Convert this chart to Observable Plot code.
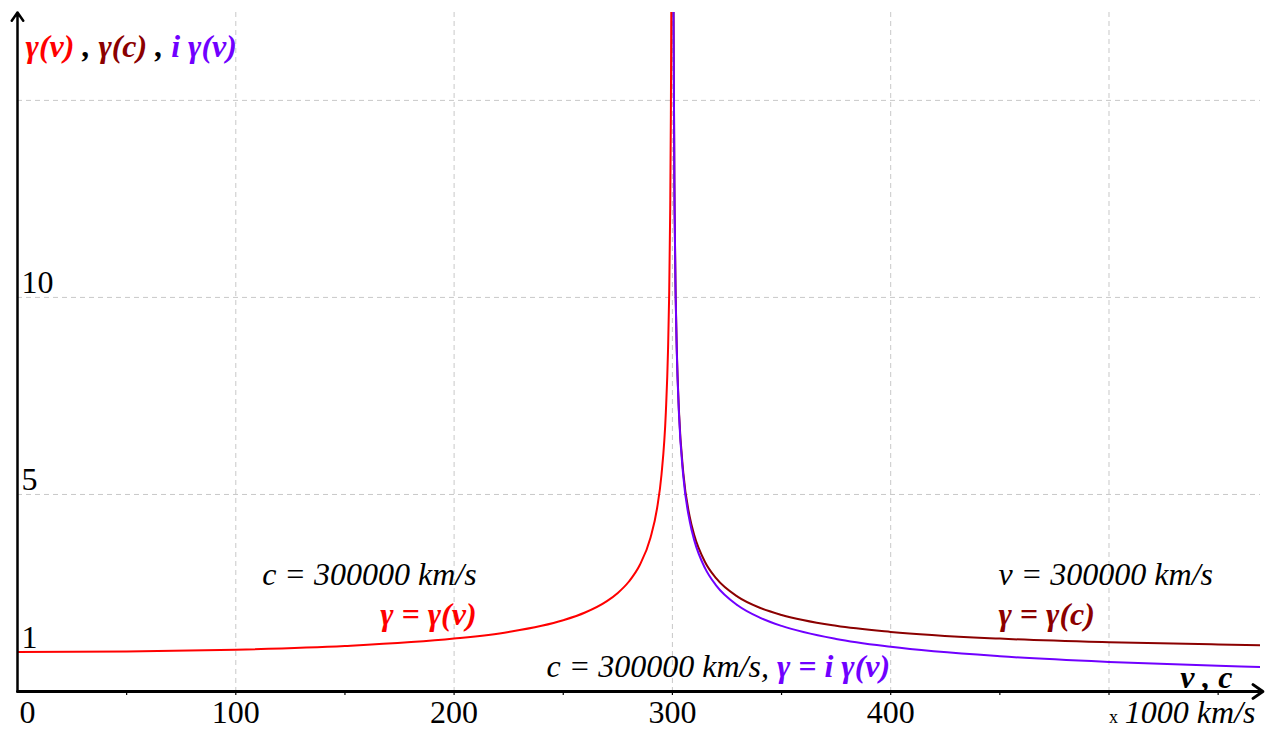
<!DOCTYPE html>
<html>
<head>
<meta charset="utf-8">
<script src="https://cdn.jsdelivr.net/npm/d3@7"></script>
<script src="https://cdn.jsdelivr.net/npm/@observablehq/plot@0.6"></script>
<style>
  body { margin: 0; background: #fff; }
  svg { display: block; }
  svg text { font-family: "Liberation Serif", "Times New Roman", serif; }
</style>
</head>
<body>
<div id="chart"></div>
<script>
// ---- data (×1000 km/s, Lorentz factor) ----
const redV = [0, 50, 100, 150, 200, 225, 250, 260, 270, 275, 280, 285, 290, 293, 295, 297, 298, 298.5, 299, 299.3, 299.5, 299.6];
const redG = [1.000, 1.014, 1.061, 1.155, 1.342, 1.512, 1.809, 2.005, 2.294, 2.502, 2.785, 3.203, 3.906, 4.657, 5.500, 7.089, 8.674, 10.01, 12.26, 14.65, 17.33, 19.37];

const darkC = [300.4, 300.5, 301, 301.5, 302, 303, 305, 308, 310, 315, 320, 330, 340, 350, 375, 400, 450, 500, 550, 570];
const darkG = [19.38, 17.34, 12.28, 10.04, 8.703, 7.124, 5.545, 4.416, 3.969, 3.280, 2.874, 2.400, 2.125, 1.941, 1.667, 1.512, 1.342, 1.250, 1.193, 1.176];

const purpleV = [300.4, 300.5, 301, 301.5, 302, 303, 305, 308, 310, 315, 320, 330, 340, 350, 375, 400, 450, 500, 550, 570];
const purpleG = [19.36, 17.31, 12.24, 9.988, 8.646, 7.053, 5.455, 4.302, 3.841, 3.123, 2.694, 2.182, 1.875, 1.664, 1.333, 1.134, 0.894, 0.750, 0.651, 0.619];

const xTicks = [0, 100, 200, 300, 400];
const xTickLabels = ["0", "100", "200", "300", "400"];
const xMinorTicks = [50, 100, 150, 200, 250, 300, 350, 400, 450, 500, 550];
const xGrid = [100, 200, 300, 400, 500];
const yTicks = [1, 5, 10];
const yTickLabels = ["1", "5", "10"];
const yGrid = [5, 10, 15];

const titleParts = ["γ(v)", " , ", "γ(c)", " , ", "i γ(v)"];
const xAxisName = "v , c";
const unitPrefix = "x";
const unitLabel = "1000 km/s";
const noteLeft = ["c = 300000 km/s", "γ = γ(v)"];
const noteRight = ["v = 300000 km/s", "γ = γ(c)"];
const noteBottomParts = ["c = 300000 km/s, ", "γ = i γ(v)"];

// ---- styles ----
const RED = "#ff0000", DARK = "#8b0000", PURPLE = "#7000ff";
const SERIF = "Liberation Serif";
const FS = 32;
const T = {fontFamily: SERIF, fontSize: FS, lineAnchor: "bottom"};

const red = redV.map((v, i) => ({x: v, y: redG[i]}));
const dark = darkC.map((v, i) => ({x: v, y: darkG[i]}));
const purple = purpleV.map((v, i) => ({x: v, y: purpleG[i]}));

const plot = Plot.plot({
  width: 1265,
  height: 729,
  marginLeft: 17,
  marginRight: 5,
  marginTop: 12,
  marginBottom: 38,
  x: {domain: [0, 569.4], axis: null},
  y: {domain: [0, 17.23], axis: null},
  style: {fontFamily: SERIF, background: "#fff", color: "#000"},
  marks: [
    Plot.gridX(xGrid, {stroke: "#c8c8c8", strokeOpacity: 1, strokeDasharray: "5,4"}),
    Plot.gridY(yGrid, {stroke: "#c8c8c8", strokeOpacity: 1, strokeDasharray: "5,4"}),
    Plot.axisX(xMinorTicks, {tickSize: 4, tickFormat: () => "", stroke: "#000", strokeWidth: 1.2, label: null}),
    Plot.line(red, {x: "x", y: "y", stroke: RED, strokeWidth: 2, curve: "monotone-x", clip: true}),
    Plot.line(dark, {x: "x", y: "y", stroke: DARK, strokeWidth: 2, curve: "monotone-x", clip: true}),
    Plot.line(purple, {x: "x", y: "y", stroke: PURPLE, strokeWidth: 2, curve: "monotone-x", clip: true}),
    // axes with arrowheads
    Plot.arrow([0], {x1: 0, y1: 0, x2: 570.5, y2: 0, stroke: "#000", strokeWidth: 3, headLength: 6, headAngle: 70}),
    Plot.arrow([0], {x1: 0, y1: 0, x2: 0, y2: 17.23, stroke: "#000", strokeWidth: 2.5, headLength: 6, headAngle: 70}),
    // x tick labels
    Plot.text(xTicks.slice(0, 1), {...T, x: d => d, y: 0, text: (d, i) => xTickLabels[i], dy: 31, dx: 10, fill: "#000"}),
    Plot.text(xTicks.slice(1), {...T, x: d => d, y: 0, text: (d, i) => xTickLabels[i + 1], dy: 31, fill: "#000"}),
    // y tick labels
    Plot.text(yTicks, {...T, x: 0, y: d => d, text: (d, i) => yTickLabels[i], textAnchor: "start", dx: 4, dy: -4, fill: "#000"}),
    // axis names
    Plot.text([xAxisName], {...T, x: 556.6, y: 0, text: d => d, textAnchor: "end", dy: -4, fontStyle: "italic", fontWeight: "bold", fill: "#000"}),
    Plot.text([unitPrefix], {...T, x: 500, y: 0, text: d => d, textAnchor: "start", dy: 31, fontSize: 18, fontFamily: "Liberation Sans", fill: "#000"}),
    Plot.text([unitLabel], {...T, x: 567.1, y: 0, text: d => d, textAnchor: "end", dy: 31, fontStyle: "italic", fill: "#000"}),
    // title
    Plot.text([titleParts.join("")], {...T, x: 3.7, y: 16.1, text: d => d, textAnchor: "start", fontStyle: "italic", fontWeight: "bold", fill: "#000"}),
    // annotations
    Plot.text([noteLeft[0]], {...T, x: 210.3, y: 2.69, text: d => d, textAnchor: "end", fontStyle: "italic", fill: "#000"}),
    Plot.text([noteLeft[1]], {...T, x: 210.3, y: 1.675, text: d => d, textAnchor: "end", fontStyle: "italic", fontWeight: "bold", fill: RED}),
    Plot.text([noteRight[0]], {...T, x: 449.4, y: 2.69, text: d => d, textAnchor: "start", fontStyle: "italic", fill: "#000"}),
    Plot.text([noteRight[1]], {...T, x: 449.4, y: 1.675, text: d => d, textAnchor: "start", fontStyle: "italic", fontWeight: "bold", fill: DARK}),
    Plot.text([noteBottomParts.join("")], {...T, x: 242.3, y: 0.38, text: d => d, textAnchor: "start", fontStyle: "italic", fill: "#000"})
  ]
});

// colour the parts of the mixed-colour labels
function colorize(svg, parts, colors, weights) {
  const full = parts.join("");
  d3.select(svg).selectAll("text").filter(function () { return this.textContent === full; })
    .each(function () {
      const t = d3.select(this).style("white-space", "pre");
      t.text("");
      parts.forEach((p, i) => {
        const s = t.append("tspan").attr("fill", colors[i]).text(p);
        if (weights) s.attr("font-weight", weights[i]);
      });
    });
}
colorize(plot, titleParts, [RED, "#000", DARK, "#000", PURPLE]);
colorize(plot, noteBottomParts, ["#000", PURPLE], ["normal", "bold"]);

document.getElementById("chart").appendChild(plot);
</script>
</body>
</html>
